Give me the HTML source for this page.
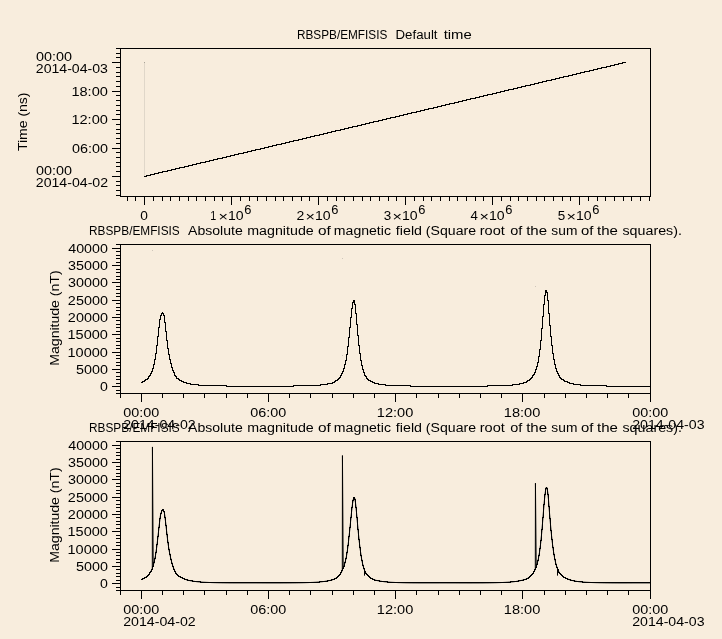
<!DOCTYPE html>
<html><head><meta charset="utf-8"><title>plot</title>
<style>
html,body{margin:0;padding:0;background:#f8eddd;}
body{width:722px;height:639px;overflow:hidden;}
svg{display:block;}
text{font-family:"Liberation Sans",sans-serif;fill:#000;}
svg{will-change:transform;}
</style></head><body>
<svg width="722" height="639" viewBox="0 0 722 639">
<rect x="0" y="0" width="722" height="639" fill="#f8eddd"/>
<rect x="120" y="48" width="531" height="1" fill="#000000"/>
<rect x="120" y="196" width="531" height="1" fill="#000000"/>
<rect x="120" y="48" width="1" height="149" fill="#000000"/>
<rect x="650" y="48" width="1" height="149" fill="#000000"/>
<rect x="116" y="195" width="5" height="1" fill="#000000"/>
<rect x="116" y="190" width="5" height="1" fill="#000000"/>
<rect x="116" y="185" width="5" height="1" fill="#000000"/>
<rect x="116" y="181" width="5" height="1" fill="#000000"/>
<rect x="112" y="176" width="9" height="1" fill="#000000"/>
<rect x="116" y="171" width="5" height="1" fill="#000000"/>
<rect x="116" y="166" width="5" height="1" fill="#000000"/>
<rect x="116" y="162" width="5" height="1" fill="#000000"/>
<rect x="116" y="157" width="5" height="1" fill="#000000"/>
<rect x="116" y="152" width="5" height="1" fill="#000000"/>
<rect x="112" y="148" width="9" height="1" fill="#000000"/>
<rect x="116" y="143" width="5" height="1" fill="#000000"/>
<rect x="116" y="138" width="5" height="1" fill="#000000"/>
<rect x="116" y="133" width="5" height="1" fill="#000000"/>
<rect x="116" y="129" width="5" height="1" fill="#000000"/>
<rect x="116" y="124" width="5" height="1" fill="#000000"/>
<rect x="112" y="119" width="9" height="1" fill="#000000"/>
<rect x="116" y="114" width="5" height="1" fill="#000000"/>
<rect x="116" y="110" width="5" height="1" fill="#000000"/>
<rect x="116" y="105" width="5" height="1" fill="#000000"/>
<rect x="116" y="100" width="5" height="1" fill="#000000"/>
<rect x="116" y="95" width="5" height="1" fill="#000000"/>
<rect x="112" y="91" width="9" height="1" fill="#000000"/>
<rect x="116" y="86" width="5" height="1" fill="#000000"/>
<rect x="116" y="81" width="5" height="1" fill="#000000"/>
<rect x="116" y="76" width="5" height="1" fill="#000000"/>
<rect x="116" y="72" width="5" height="1" fill="#000000"/>
<rect x="116" y="67" width="5" height="1" fill="#000000"/>
<rect x="112" y="62" width="9" height="1" fill="#000000"/>
<rect x="116" y="57" width="5" height="1" fill="#000000"/>
<rect x="116" y="53" width="5" height="1" fill="#000000"/>
<rect x="116" y="48" width="5" height="1" fill="#000000"/>
<text x="35.92" y="61" font-size="12.3" textLength="35.98" lengthAdjust="spacingAndGlyphs">00:00</text>
<text x="35.79" y="73" font-size="12.3" textLength="72.17" lengthAdjust="spacingAndGlyphs">2014-04-03</text>
<text x="71.4" y="96" font-size="12.3" textLength="36.51" lengthAdjust="spacingAndGlyphs">18:00</text>
<text x="71.4" y="124" font-size="12.3" textLength="36.51" lengthAdjust="spacingAndGlyphs">12:00</text>
<text x="71.92" y="153" font-size="12.3" textLength="35.98" lengthAdjust="spacingAndGlyphs">06:00</text>
<text x="35.92" y="175" font-size="12.3" textLength="35.98" lengthAdjust="spacingAndGlyphs">00:00</text>
<text x="35.79" y="187" font-size="12.3" textLength="72.32" lengthAdjust="spacingAndGlyphs">2014-04-02</text>
<rect x="127" y="196" width="1" height="5" fill="#000000"/>
<rect x="135" y="196" width="1" height="5" fill="#000000"/>
<rect x="144" y="196" width="1" height="9" fill="#000000"/>
<rect x="153" y="196" width="1" height="5" fill="#000000"/>
<rect x="162" y="196" width="1" height="5" fill="#000000"/>
<rect x="170" y="196" width="1" height="5" fill="#000000"/>
<rect x="179" y="196" width="1" height="5" fill="#000000"/>
<rect x="188" y="196" width="1" height="5" fill="#000000"/>
<rect x="196" y="196" width="1" height="5" fill="#000000"/>
<rect x="205" y="196" width="1" height="5" fill="#000000"/>
<rect x="214" y="196" width="1" height="5" fill="#000000"/>
<rect x="222" y="196" width="1" height="5" fill="#000000"/>
<rect x="231" y="196" width="1" height="9" fill="#000000"/>
<rect x="240" y="196" width="1" height="5" fill="#000000"/>
<rect x="249" y="196" width="1" height="5" fill="#000000"/>
<rect x="257" y="196" width="1" height="5" fill="#000000"/>
<rect x="266" y="196" width="1" height="5" fill="#000000"/>
<rect x="275" y="196" width="1" height="5" fill="#000000"/>
<rect x="283" y="196" width="1" height="5" fill="#000000"/>
<rect x="292" y="196" width="1" height="5" fill="#000000"/>
<rect x="301" y="196" width="1" height="5" fill="#000000"/>
<rect x="309" y="196" width="1" height="5" fill="#000000"/>
<rect x="318" y="196" width="1" height="9" fill="#000000"/>
<rect x="327" y="196" width="1" height="5" fill="#000000"/>
<rect x="336" y="196" width="1" height="5" fill="#000000"/>
<rect x="344" y="196" width="1" height="5" fill="#000000"/>
<rect x="353" y="196" width="1" height="5" fill="#000000"/>
<rect x="362" y="196" width="1" height="5" fill="#000000"/>
<rect x="370" y="196" width="1" height="5" fill="#000000"/>
<rect x="379" y="196" width="1" height="5" fill="#000000"/>
<rect x="388" y="196" width="1" height="5" fill="#000000"/>
<rect x="396" y="196" width="1" height="5" fill="#000000"/>
<rect x="405" y="196" width="1" height="9" fill="#000000"/>
<rect x="414" y="196" width="1" height="5" fill="#000000"/>
<rect x="423" y="196" width="1" height="5" fill="#000000"/>
<rect x="431" y="196" width="1" height="5" fill="#000000"/>
<rect x="440" y="196" width="1" height="5" fill="#000000"/>
<rect x="449" y="196" width="1" height="5" fill="#000000"/>
<rect x="457" y="196" width="1" height="5" fill="#000000"/>
<rect x="466" y="196" width="1" height="5" fill="#000000"/>
<rect x="475" y="196" width="1" height="5" fill="#000000"/>
<rect x="483" y="196" width="1" height="5" fill="#000000"/>
<rect x="492" y="196" width="1" height="9" fill="#000000"/>
<rect x="501" y="196" width="1" height="5" fill="#000000"/>
<rect x="510" y="196" width="1" height="5" fill="#000000"/>
<rect x="518" y="196" width="1" height="5" fill="#000000"/>
<rect x="527" y="196" width="1" height="5" fill="#000000"/>
<rect x="536" y="196" width="1" height="5" fill="#000000"/>
<rect x="544" y="196" width="1" height="5" fill="#000000"/>
<rect x="553" y="196" width="1" height="5" fill="#000000"/>
<rect x="562" y="196" width="1" height="5" fill="#000000"/>
<rect x="570" y="196" width="1" height="5" fill="#000000"/>
<rect x="579" y="196" width="1" height="9" fill="#000000"/>
<rect x="588" y="196" width="1" height="5" fill="#000000"/>
<rect x="597" y="196" width="1" height="5" fill="#000000"/>
<rect x="605" y="196" width="1" height="5" fill="#000000"/>
<rect x="614" y="196" width="1" height="5" fill="#000000"/>
<rect x="623" y="196" width="1" height="5" fill="#000000"/>
<rect x="631" y="196" width="1" height="5" fill="#000000"/>
<rect x="640" y="196" width="1" height="5" fill="#000000"/>
<rect x="649" y="196" width="1" height="5" fill="#000000"/>
<text x="140.15" y="220" font-size="12.3" textLength="7.63" lengthAdjust="spacingAndGlyphs">0</text>
<text x="210.29" y="220" font-size="12.3" textLength="6.0" lengthAdjust="spacingAndGlyphs">1</text>
<text x="218.57" y="221.3" font-size="12.3" textLength="9.47" lengthAdjust="spacingAndGlyphs">×</text>
<text x="228.04" y="220" font-size="12.3" textLength="15.65" lengthAdjust="spacingAndGlyphs">10</text>
<text x="244.25" y="214" font-size="12.3" textLength="7.16" lengthAdjust="spacingAndGlyphs">6</text>
<text x="296.6" y="220" font-size="12.3" textLength="7.81" lengthAdjust="spacingAndGlyphs">2</text>
<text x="305.57" y="221.3" font-size="12.3" textLength="9.47" lengthAdjust="spacingAndGlyphs">×</text>
<text x="315.04" y="220" font-size="12.3" textLength="15.65" lengthAdjust="spacingAndGlyphs">10</text>
<text x="331.25" y="214" font-size="12.3" textLength="7.16" lengthAdjust="spacingAndGlyphs">6</text>
<text x="383.76" y="220" font-size="12.3" textLength="7.48" lengthAdjust="spacingAndGlyphs">3</text>
<text x="392.57" y="221.3" font-size="12.3" textLength="9.47" lengthAdjust="spacingAndGlyphs">×</text>
<text x="402.04" y="220" font-size="12.3" textLength="15.65" lengthAdjust="spacingAndGlyphs">10</text>
<text x="418.25" y="214" font-size="12.3" textLength="7.16" lengthAdjust="spacingAndGlyphs">6</text>
<text x="470.63" y="220" font-size="12.3" textLength="7.36" lengthAdjust="spacingAndGlyphs">4</text>
<text x="479.57" y="221.3" font-size="12.3" textLength="9.47" lengthAdjust="spacingAndGlyphs">×</text>
<text x="489.04" y="220" font-size="12.3" textLength="15.65" lengthAdjust="spacingAndGlyphs">10</text>
<text x="505.25" y="214" font-size="12.3" textLength="7.16" lengthAdjust="spacingAndGlyphs">6</text>
<text x="557.76" y="220" font-size="12.3" textLength="7.48" lengthAdjust="spacingAndGlyphs">5</text>
<text x="566.57" y="221.3" font-size="12.3" textLength="9.47" lengthAdjust="spacingAndGlyphs">×</text>
<text x="576.04" y="220" font-size="12.3" textLength="15.65" lengthAdjust="spacingAndGlyphs">10</text>
<text x="592.25" y="214" font-size="12.3" textLength="7.16" lengthAdjust="spacingAndGlyphs">6</text>
<text x="296.96" y="39" font-size="12.3" textLength="90.37" lengthAdjust="spacingAndGlyphs">RBSPB/EMFISIS</text>
<text x="395.54" y="39" font-size="12.3" textLength="41.99" lengthAdjust="spacingAndGlyphs">Default</text>
<text x="443.68" y="39" font-size="12.3" textLength="28.09" lengthAdjust="spacingAndGlyphs">time</text>
<text transform="translate(27,151.08) rotate(-90)" font-size="12.3" textLength="58.57" lengthAdjust="spacingAndGlyphs">Time (ns)</text>
<rect x="144" y="62" width="1" height="115" fill="#e0d7c9"/>
<rect x="144" y="62" width="1" height="1" fill="#aaa498"/>
<rect x="144" y="176" width="2" height="1" fill="#000000"/>
<rect x="146" y="175" width="1" height="2" fill="#000000"/>
<rect x="147" y="175" width="3" height="1" fill="#000000"/>
<rect x="150" y="174" width="1" height="2" fill="#000000"/>
<rect x="151" y="174" width="3" height="1" fill="#000000"/>
<rect x="154" y="173" width="1" height="2" fill="#000000"/>
<rect x="155" y="173" width="3" height="1" fill="#000000"/>
<rect x="158" y="172" width="1" height="2" fill="#000000"/>
<rect x="159" y="172" width="3" height="1" fill="#000000"/>
<rect x="162" y="171" width="1" height="2" fill="#000000"/>
<rect x="163" y="171" width="4" height="1" fill="#000000"/>
<rect x="167" y="170" width="1" height="2" fill="#000000"/>
<rect x="168" y="170" width="3" height="1" fill="#000000"/>
<rect x="171" y="169" width="1" height="2" fill="#000000"/>
<rect x="172" y="169" width="3" height="1" fill="#000000"/>
<rect x="175" y="168" width="1" height="2" fill="#000000"/>
<rect x="176" y="168" width="3" height="1" fill="#000000"/>
<rect x="179" y="167" width="1" height="2" fill="#000000"/>
<rect x="180" y="167" width="4" height="1" fill="#000000"/>
<rect x="184" y="166" width="1" height="2" fill="#000000"/>
<rect x="185" y="166" width="3" height="1" fill="#000000"/>
<rect x="188" y="165" width="1" height="2" fill="#000000"/>
<rect x="189" y="165" width="3" height="1" fill="#000000"/>
<rect x="192" y="164" width="1" height="2" fill="#000000"/>
<rect x="193" y="164" width="3" height="1" fill="#000000"/>
<rect x="196" y="163" width="1" height="2" fill="#000000"/>
<rect x="197" y="163" width="3" height="1" fill="#000000"/>
<rect x="200" y="162" width="1" height="2" fill="#000000"/>
<rect x="201" y="162" width="4" height="1" fill="#000000"/>
<rect x="205" y="161" width="1" height="2" fill="#000000"/>
<rect x="206" y="161" width="3" height="1" fill="#000000"/>
<rect x="209" y="160" width="1" height="2" fill="#000000"/>
<rect x="210" y="160" width="3" height="1" fill="#000000"/>
<rect x="213" y="159" width="1" height="2" fill="#000000"/>
<rect x="214" y="159" width="3" height="1" fill="#000000"/>
<rect x="217" y="158" width="1" height="2" fill="#000000"/>
<rect x="218" y="158" width="4" height="1" fill="#000000"/>
<rect x="222" y="157" width="1" height="2" fill="#000000"/>
<rect x="223" y="157" width="3" height="1" fill="#000000"/>
<rect x="226" y="156" width="1" height="2" fill="#000000"/>
<rect x="227" y="156" width="3" height="1" fill="#000000"/>
<rect x="230" y="155" width="1" height="2" fill="#000000"/>
<rect x="231" y="155" width="3" height="1" fill="#000000"/>
<rect x="234" y="154" width="1" height="2" fill="#000000"/>
<rect x="235" y="154" width="3" height="1" fill="#000000"/>
<rect x="238" y="153" width="1" height="2" fill="#000000"/>
<rect x="239" y="153" width="4" height="1" fill="#000000"/>
<rect x="243" y="152" width="1" height="2" fill="#000000"/>
<rect x="244" y="152" width="3" height="1" fill="#000000"/>
<rect x="247" y="151" width="1" height="2" fill="#000000"/>
<rect x="248" y="151" width="3" height="1" fill="#000000"/>
<rect x="251" y="150" width="1" height="2" fill="#000000"/>
<rect x="252" y="150" width="3" height="1" fill="#000000"/>
<rect x="255" y="149" width="1" height="2" fill="#000000"/>
<rect x="256" y="149" width="4" height="1" fill="#000000"/>
<rect x="260" y="148" width="1" height="2" fill="#000000"/>
<rect x="261" y="148" width="3" height="1" fill="#000000"/>
<rect x="264" y="147" width="1" height="2" fill="#000000"/>
<rect x="265" y="147" width="3" height="1" fill="#000000"/>
<rect x="268" y="146" width="1" height="2" fill="#000000"/>
<rect x="269" y="146" width="3" height="1" fill="#000000"/>
<rect x="272" y="145" width="1" height="2" fill="#000000"/>
<rect x="273" y="145" width="3" height="1" fill="#000000"/>
<rect x="276" y="144" width="1" height="2" fill="#000000"/>
<rect x="277" y="144" width="4" height="1" fill="#000000"/>
<rect x="281" y="143" width="1" height="2" fill="#000000"/>
<rect x="282" y="143" width="3" height="1" fill="#000000"/>
<rect x="285" y="142" width="1" height="2" fill="#000000"/>
<rect x="286" y="142" width="3" height="1" fill="#000000"/>
<rect x="289" y="141" width="1" height="2" fill="#000000"/>
<rect x="290" y="141" width="3" height="1" fill="#000000"/>
<rect x="293" y="140" width="1" height="2" fill="#000000"/>
<rect x="294" y="140" width="4" height="1" fill="#000000"/>
<rect x="298" y="139" width="1" height="2" fill="#000000"/>
<rect x="299" y="139" width="3" height="1" fill="#000000"/>
<rect x="302" y="138" width="1" height="2" fill="#000000"/>
<rect x="303" y="138" width="3" height="1" fill="#000000"/>
<rect x="306" y="137" width="1" height="2" fill="#000000"/>
<rect x="307" y="137" width="3" height="1" fill="#000000"/>
<rect x="310" y="136" width="1" height="2" fill="#000000"/>
<rect x="311" y="136" width="3" height="1" fill="#000000"/>
<rect x="314" y="135" width="1" height="2" fill="#000000"/>
<rect x="315" y="135" width="4" height="1" fill="#000000"/>
<rect x="319" y="134" width="1" height="2" fill="#000000"/>
<rect x="320" y="134" width="3" height="1" fill="#000000"/>
<rect x="323" y="133" width="1" height="2" fill="#000000"/>
<rect x="324" y="133" width="3" height="1" fill="#000000"/>
<rect x="327" y="132" width="1" height="2" fill="#000000"/>
<rect x="328" y="132" width="3" height="1" fill="#000000"/>
<rect x="331" y="131" width="1" height="2" fill="#000000"/>
<rect x="332" y="131" width="3" height="1" fill="#000000"/>
<rect x="335" y="130" width="1" height="2" fill="#000000"/>
<rect x="336" y="130" width="4" height="1" fill="#000000"/>
<rect x="340" y="129" width="1" height="2" fill="#000000"/>
<rect x="341" y="129" width="3" height="1" fill="#000000"/>
<rect x="344" y="128" width="1" height="2" fill="#000000"/>
<rect x="345" y="128" width="3" height="1" fill="#000000"/>
<rect x="348" y="127" width="1" height="2" fill="#000000"/>
<rect x="349" y="127" width="3" height="1" fill="#000000"/>
<rect x="352" y="126" width="1" height="2" fill="#000000"/>
<rect x="353" y="126" width="4" height="1" fill="#000000"/>
<rect x="357" y="125" width="1" height="2" fill="#000000"/>
<rect x="358" y="125" width="3" height="1" fill="#000000"/>
<rect x="361" y="124" width="1" height="2" fill="#000000"/>
<rect x="362" y="124" width="3" height="1" fill="#000000"/>
<rect x="365" y="123" width="1" height="2" fill="#000000"/>
<rect x="366" y="123" width="3" height="1" fill="#000000"/>
<rect x="369" y="122" width="1" height="2" fill="#000000"/>
<rect x="370" y="122" width="3" height="1" fill="#000000"/>
<rect x="373" y="121" width="1" height="2" fill="#000000"/>
<rect x="374" y="121" width="4" height="1" fill="#000000"/>
<rect x="378" y="120" width="1" height="2" fill="#000000"/>
<rect x="379" y="120" width="3" height="1" fill="#000000"/>
<rect x="382" y="119" width="1" height="2" fill="#000000"/>
<rect x="383" y="119" width="3" height="1" fill="#000000"/>
<rect x="386" y="118" width="1" height="2" fill="#000000"/>
<rect x="387" y="118" width="3" height="1" fill="#000000"/>
<rect x="390" y="117" width="1" height="2" fill="#000000"/>
<rect x="391" y="117" width="4" height="1" fill="#000000"/>
<rect x="395" y="116" width="1" height="2" fill="#000000"/>
<rect x="396" y="116" width="3" height="1" fill="#000000"/>
<rect x="399" y="115" width="1" height="2" fill="#000000"/>
<rect x="400" y="115" width="3" height="1" fill="#000000"/>
<rect x="403" y="114" width="1" height="2" fill="#000000"/>
<rect x="404" y="114" width="3" height="1" fill="#000000"/>
<rect x="407" y="113" width="1" height="2" fill="#000000"/>
<rect x="408" y="113" width="3" height="1" fill="#000000"/>
<rect x="411" y="112" width="1" height="2" fill="#000000"/>
<rect x="412" y="112" width="4" height="1" fill="#000000"/>
<rect x="416" y="111" width="1" height="2" fill="#000000"/>
<rect x="417" y="111" width="3" height="1" fill="#000000"/>
<rect x="420" y="110" width="1" height="2" fill="#000000"/>
<rect x="421" y="110" width="3" height="1" fill="#000000"/>
<rect x="424" y="109" width="1" height="2" fill="#000000"/>
<rect x="425" y="109" width="3" height="1" fill="#000000"/>
<rect x="428" y="108" width="1" height="2" fill="#000000"/>
<rect x="429" y="108" width="4" height="1" fill="#000000"/>
<rect x="433" y="107" width="1" height="2" fill="#000000"/>
<rect x="434" y="107" width="3" height="1" fill="#000000"/>
<rect x="437" y="106" width="1" height="2" fill="#000000"/>
<rect x="438" y="106" width="3" height="1" fill="#000000"/>
<rect x="441" y="105" width="1" height="2" fill="#000000"/>
<rect x="442" y="105" width="3" height="1" fill="#000000"/>
<rect x="445" y="104" width="1" height="2" fill="#000000"/>
<rect x="446" y="104" width="3" height="1" fill="#000000"/>
<rect x="449" y="103" width="1" height="2" fill="#000000"/>
<rect x="450" y="103" width="4" height="1" fill="#000000"/>
<rect x="454" y="102" width="1" height="2" fill="#000000"/>
<rect x="455" y="102" width="3" height="1" fill="#000000"/>
<rect x="458" y="101" width="1" height="2" fill="#000000"/>
<rect x="459" y="101" width="3" height="1" fill="#000000"/>
<rect x="462" y="100" width="1" height="2" fill="#000000"/>
<rect x="463" y="100" width="3" height="1" fill="#000000"/>
<rect x="466" y="99" width="1" height="2" fill="#000000"/>
<rect x="467" y="99" width="3" height="1" fill="#000000"/>
<rect x="470" y="98" width="1" height="2" fill="#000000"/>
<rect x="471" y="98" width="4" height="1" fill="#000000"/>
<rect x="475" y="97" width="1" height="2" fill="#000000"/>
<rect x="476" y="97" width="3" height="1" fill="#000000"/>
<rect x="479" y="96" width="1" height="2" fill="#000000"/>
<rect x="480" y="96" width="3" height="1" fill="#000000"/>
<rect x="483" y="95" width="1" height="2" fill="#000000"/>
<rect x="484" y="95" width="3" height="1" fill="#000000"/>
<rect x="487" y="94" width="1" height="2" fill="#000000"/>
<rect x="488" y="94" width="4" height="1" fill="#000000"/>
<rect x="492" y="93" width="1" height="2" fill="#000000"/>
<rect x="493" y="93" width="3" height="1" fill="#000000"/>
<rect x="496" y="92" width="1" height="2" fill="#000000"/>
<rect x="497" y="92" width="3" height="1" fill="#000000"/>
<rect x="500" y="91" width="1" height="2" fill="#000000"/>
<rect x="501" y="91" width="3" height="1" fill="#000000"/>
<rect x="504" y="90" width="1" height="2" fill="#000000"/>
<rect x="505" y="90" width="3" height="1" fill="#000000"/>
<rect x="508" y="89" width="1" height="2" fill="#000000"/>
<rect x="509" y="89" width="4" height="1" fill="#000000"/>
<rect x="513" y="88" width="1" height="2" fill="#000000"/>
<rect x="514" y="88" width="3" height="1" fill="#000000"/>
<rect x="517" y="87" width="1" height="2" fill="#000000"/>
<rect x="518" y="87" width="3" height="1" fill="#000000"/>
<rect x="521" y="86" width="1" height="2" fill="#000000"/>
<rect x="522" y="86" width="3" height="1" fill="#000000"/>
<rect x="525" y="85" width="1" height="2" fill="#000000"/>
<rect x="526" y="85" width="4" height="1" fill="#000000"/>
<rect x="530" y="84" width="1" height="2" fill="#000000"/>
<rect x="531" y="84" width="3" height="1" fill="#000000"/>
<rect x="534" y="83" width="1" height="2" fill="#000000"/>
<rect x="535" y="83" width="3" height="1" fill="#000000"/>
<rect x="538" y="82" width="1" height="2" fill="#000000"/>
<rect x="539" y="82" width="3" height="1" fill="#000000"/>
<rect x="542" y="81" width="1" height="2" fill="#000000"/>
<rect x="543" y="81" width="3" height="1" fill="#000000"/>
<rect x="546" y="80" width="1" height="2" fill="#000000"/>
<rect x="547" y="80" width="4" height="1" fill="#000000"/>
<rect x="551" y="79" width="1" height="2" fill="#000000"/>
<rect x="552" y="79" width="3" height="1" fill="#000000"/>
<rect x="555" y="78" width="1" height="2" fill="#000000"/>
<rect x="556" y="78" width="3" height="1" fill="#000000"/>
<rect x="559" y="77" width="1" height="2" fill="#000000"/>
<rect x="560" y="77" width="3" height="1" fill="#000000"/>
<rect x="563" y="76" width="1" height="2" fill="#000000"/>
<rect x="564" y="76" width="4" height="1" fill="#000000"/>
<rect x="568" y="75" width="1" height="2" fill="#000000"/>
<rect x="569" y="75" width="3" height="1" fill="#000000"/>
<rect x="572" y="74" width="1" height="2" fill="#000000"/>
<rect x="573" y="74" width="3" height="1" fill="#000000"/>
<rect x="576" y="73" width="1" height="2" fill="#000000"/>
<rect x="577" y="73" width="3" height="1" fill="#000000"/>
<rect x="580" y="72" width="1" height="2" fill="#000000"/>
<rect x="581" y="72" width="3" height="1" fill="#000000"/>
<rect x="584" y="71" width="1" height="2" fill="#000000"/>
<rect x="585" y="71" width="4" height="1" fill="#000000"/>
<rect x="589" y="70" width="1" height="2" fill="#000000"/>
<rect x="590" y="70" width="3" height="1" fill="#000000"/>
<rect x="593" y="69" width="1" height="2" fill="#000000"/>
<rect x="594" y="69" width="3" height="1" fill="#000000"/>
<rect x="597" y="68" width="1" height="2" fill="#000000"/>
<rect x="598" y="68" width="3" height="1" fill="#000000"/>
<rect x="601" y="67" width="1" height="2" fill="#000000"/>
<rect x="602" y="67" width="4" height="1" fill="#000000"/>
<rect x="606" y="66" width="1" height="2" fill="#000000"/>
<rect x="607" y="66" width="3" height="1" fill="#000000"/>
<rect x="610" y="65" width="1" height="2" fill="#000000"/>
<rect x="611" y="65" width="3" height="1" fill="#000000"/>
<rect x="614" y="64" width="1" height="2" fill="#000000"/>
<rect x="615" y="64" width="3" height="1" fill="#000000"/>
<rect x="618" y="63" width="1" height="2" fill="#000000"/>
<rect x="619" y="63" width="3" height="1" fill="#000000"/>
<rect x="622" y="62" width="1" height="2" fill="#000000"/>
<rect x="623" y="62" width="3" height="1" fill="#000000"/>
<rect x="120" y="244" width="531" height="1" fill="#000000"/>
<rect x="120" y="393" width="531" height="1" fill="#000000"/>
<rect x="120" y="244" width="1" height="150" fill="#000000"/>
<rect x="650" y="244" width="1" height="150" fill="#000000"/>
<rect x="116" y="393" width="5" height="1" fill="#000000"/>
<rect x="116" y="390" width="5" height="1" fill="#000000"/>
<rect x="112" y="386" width="9" height="1" fill="#000000"/>
<rect x="116" y="383" width="5" height="1" fill="#000000"/>
<rect x="116" y="379" width="5" height="1" fill="#000000"/>
<rect x="116" y="376" width="5" height="1" fill="#000000"/>
<rect x="116" y="372" width="5" height="1" fill="#000000"/>
<rect x="112" y="369" width="9" height="1" fill="#000000"/>
<rect x="116" y="365" width="5" height="1" fill="#000000"/>
<rect x="116" y="362" width="5" height="1" fill="#000000"/>
<rect x="116" y="358" width="5" height="1" fill="#000000"/>
<rect x="116" y="355" width="5" height="1" fill="#000000"/>
<rect x="112" y="352" width="9" height="1" fill="#000000"/>
<rect x="116" y="348" width="5" height="1" fill="#000000"/>
<rect x="116" y="345" width="5" height="1" fill="#000000"/>
<rect x="116" y="341" width="5" height="1" fill="#000000"/>
<rect x="116" y="338" width="5" height="1" fill="#000000"/>
<rect x="112" y="334" width="9" height="1" fill="#000000"/>
<rect x="116" y="331" width="5" height="1" fill="#000000"/>
<rect x="116" y="327" width="5" height="1" fill="#000000"/>
<rect x="116" y="324" width="5" height="1" fill="#000000"/>
<rect x="116" y="320" width="5" height="1" fill="#000000"/>
<rect x="112" y="317" width="9" height="1" fill="#000000"/>
<rect x="116" y="314" width="5" height="1" fill="#000000"/>
<rect x="116" y="310" width="5" height="1" fill="#000000"/>
<rect x="116" y="307" width="5" height="1" fill="#000000"/>
<rect x="116" y="303" width="5" height="1" fill="#000000"/>
<rect x="112" y="300" width="9" height="1" fill="#000000"/>
<rect x="116" y="296" width="5" height="1" fill="#000000"/>
<rect x="116" y="293" width="5" height="1" fill="#000000"/>
<rect x="116" y="289" width="5" height="1" fill="#000000"/>
<rect x="116" y="286" width="5" height="1" fill="#000000"/>
<rect x="112" y="282" width="9" height="1" fill="#000000"/>
<rect x="116" y="279" width="5" height="1" fill="#000000"/>
<rect x="116" y="276" width="5" height="1" fill="#000000"/>
<rect x="116" y="272" width="5" height="1" fill="#000000"/>
<rect x="116" y="269" width="5" height="1" fill="#000000"/>
<rect x="112" y="265" width="9" height="1" fill="#000000"/>
<rect x="116" y="262" width="5" height="1" fill="#000000"/>
<rect x="116" y="258" width="5" height="1" fill="#000000"/>
<rect x="116" y="255" width="5" height="1" fill="#000000"/>
<rect x="116" y="251" width="5" height="1" fill="#000000"/>
<rect x="112" y="248" width="9" height="1" fill="#000000"/>
<rect x="116" y="244" width="5" height="1" fill="#000000"/>
<text x="100.03" y="391" font-size="12.3" textLength="7.86" lengthAdjust="spacingAndGlyphs">0</text>
<text x="76.03" y="374" font-size="12.3" textLength="31.88" lengthAdjust="spacingAndGlyphs">5000</text>
<text x="67.51" y="357" font-size="12.3" textLength="40.4" lengthAdjust="spacingAndGlyphs">10000</text>
<text x="67.51" y="339" font-size="12.3" textLength="40.4" lengthAdjust="spacingAndGlyphs">15000</text>
<text x="67.88" y="322" font-size="12.3" textLength="40.03" lengthAdjust="spacingAndGlyphs">20000</text>
<text x="67.88" y="305" font-size="12.3" textLength="40.03" lengthAdjust="spacingAndGlyphs">25000</text>
<text x="68.03" y="287" font-size="12.3" textLength="39.88" lengthAdjust="spacingAndGlyphs">30000</text>
<text x="68.03" y="270" font-size="12.3" textLength="39.88" lengthAdjust="spacingAndGlyphs">35000</text>
<text x="68.31" y="253" font-size="12.3" textLength="39.58" lengthAdjust="spacingAndGlyphs">40000</text>
<rect x="120" y="393" width="1" height="5" fill="#000000"/>
<rect x="141" y="393" width="1" height="9" fill="#000000"/>
<rect x="162" y="393" width="1" height="5" fill="#000000"/>
<rect x="183" y="393" width="1" height="5" fill="#000000"/>
<rect x="204" y="393" width="1" height="5" fill="#000000"/>
<rect x="226" y="393" width="1" height="5" fill="#000000"/>
<rect x="247" y="393" width="1" height="5" fill="#000000"/>
<rect x="268" y="393" width="1" height="9" fill="#000000"/>
<rect x="289" y="393" width="1" height="5" fill="#000000"/>
<rect x="310" y="393" width="1" height="5" fill="#000000"/>
<rect x="332" y="393" width="1" height="5" fill="#000000"/>
<rect x="353" y="393" width="1" height="5" fill="#000000"/>
<rect x="374" y="393" width="1" height="5" fill="#000000"/>
<rect x="395" y="393" width="1" height="9" fill="#000000"/>
<rect x="416" y="393" width="1" height="5" fill="#000000"/>
<rect x="438" y="393" width="1" height="5" fill="#000000"/>
<rect x="459" y="393" width="1" height="5" fill="#000000"/>
<rect x="480" y="393" width="1" height="5" fill="#000000"/>
<rect x="501" y="393" width="1" height="5" fill="#000000"/>
<rect x="522" y="393" width="1" height="9" fill="#000000"/>
<rect x="544" y="393" width="1" height="5" fill="#000000"/>
<rect x="565" y="393" width="1" height="5" fill="#000000"/>
<rect x="586" y="393" width="1" height="5" fill="#000000"/>
<rect x="607" y="393" width="1" height="5" fill="#000000"/>
<rect x="628" y="393" width="1" height="5" fill="#000000"/>
<rect x="650" y="393" width="1" height="9" fill="#000000"/>
<text x="123.32" y="417" font-size="12.3" textLength="35.98" lengthAdjust="spacingAndGlyphs">00:00</text>
<text x="123.19" y="429" font-size="12.3" textLength="72.52" lengthAdjust="spacingAndGlyphs">2014-04-02</text>
<text x="250.32" y="417" font-size="12.3" textLength="35.98" lengthAdjust="spacingAndGlyphs">06:00</text>
<text x="376.8" y="417" font-size="12.3" textLength="36.51" lengthAdjust="spacingAndGlyphs">12:00</text>
<text x="503.8" y="417" font-size="12.3" textLength="36.51" lengthAdjust="spacingAndGlyphs">18:00</text>
<text x="632.32" y="417" font-size="12.3" textLength="35.98" lengthAdjust="spacingAndGlyphs">00:00</text>
<text x="632.19" y="429" font-size="12.3" textLength="72.37" lengthAdjust="spacingAndGlyphs">2014-04-03</text>
<text x="89.05" y="235" font-size="12.3" textLength="90.68" lengthAdjust="spacingAndGlyphs">RBSPB/EMFISIS</text>
<text x="188.0" y="235" font-size="12.3" textLength="54.73" lengthAdjust="spacingAndGlyphs">Absolute</text>
<text x="247.27" y="235" font-size="12.3" textLength="66.47" lengthAdjust="spacingAndGlyphs">magnitude</text>
<text x="318.09" y="235" font-size="12.3" textLength="12.81" lengthAdjust="spacingAndGlyphs">of</text>
<text x="333.89" y="235" font-size="12.3" textLength="57.07" lengthAdjust="spacingAndGlyphs">magnetic</text>
<text x="395.89" y="235" font-size="12.3" textLength="26.14" lengthAdjust="spacingAndGlyphs">field</text>
<text x="425.85" y="235" font-size="12.3" textLength="50.18" lengthAdjust="spacingAndGlyphs">(Square</text>
<text x="479.75" y="235" font-size="12.3" textLength="25.09" lengthAdjust="spacingAndGlyphs">root</text>
<text x="510.32" y="235" font-size="12.3" textLength="12.08" lengthAdjust="spacingAndGlyphs">of</text>
<text x="526.17" y="235" font-size="12.3" textLength="20.9" lengthAdjust="spacingAndGlyphs">the</text>
<text x="551.39" y="235" font-size="12.3" textLength="26.01" lengthAdjust="spacingAndGlyphs">sum</text>
<text x="581.11" y="235" font-size="12.3" textLength="12.39" lengthAdjust="spacingAndGlyphs">of</text>
<text x="596.97" y="235" font-size="12.3" textLength="20.9" lengthAdjust="spacingAndGlyphs">the</text>
<text x="622.47" y="235" font-size="12.3" textLength="59.48" lengthAdjust="spacingAndGlyphs">squares).</text>
<text transform="translate(59,365.72) rotate(-90)" font-size="12.3" textLength="95.34" lengthAdjust="spacingAndGlyphs">Magnitude (nT)</text>
<rect x="141" y="382" width="1" height="1" fill="#000000"/>
<rect x="142" y="381" width="1" height="2" fill="#000000"/>
<rect x="143" y="381" width="1" height="1" fill="#000000"/>
<rect x="144" y="380" width="1" height="2" fill="#000000"/>
<rect x="145" y="379" width="1" height="2" fill="#000000"/>
<rect x="146" y="379" width="1" height="1" fill="#000000"/>
<rect x="147" y="378" width="1" height="2" fill="#000000"/>
<rect x="148" y="376" width="1" height="3" fill="#000000"/>
<rect x="149" y="375" width="1" height="2" fill="#000000"/>
<rect x="150" y="373" width="1" height="3" fill="#000000"/>
<rect x="151" y="371" width="1" height="3" fill="#000000"/>
<rect x="152" y="368" width="1" height="4" fill="#000000"/>
<rect x="153" y="364" width="1" height="5" fill="#000000"/>
<rect x="154" y="359" width="1" height="6" fill="#000000"/>
<rect x="155" y="353" width="1" height="7" fill="#000000"/>
<rect x="156" y="345" width="1" height="9" fill="#000000"/>
<rect x="157" y="336" width="1" height="10" fill="#000000"/>
<rect x="158" y="327" width="1" height="10" fill="#000000"/>
<rect x="159" y="319" width="1" height="9" fill="#000000"/>
<rect x="160" y="315" width="1" height="5" fill="#000000"/>
<rect x="161" y="313" width="1" height="3" fill="#000000"/>
<rect x="162" y="312" width="1" height="2" fill="#000000"/>
<rect x="163" y="313" width="1" height="3" fill="#000000"/>
<rect x="164" y="315" width="1" height="8" fill="#000000"/>
<rect x="165" y="322" width="1" height="10" fill="#000000"/>
<rect x="166" y="331" width="1" height="10" fill="#000000"/>
<rect x="167" y="340" width="1" height="9" fill="#000000"/>
<rect x="168" y="348" width="1" height="7" fill="#000000"/>
<rect x="169" y="354" width="1" height="6" fill="#000000"/>
<rect x="170" y="359" width="1" height="5" fill="#000000"/>
<rect x="171" y="363" width="1" height="5" fill="#000000"/>
<rect x="172" y="367" width="1" height="4" fill="#000000"/>
<rect x="173" y="370" width="1" height="3" fill="#000000"/>
<rect x="174" y="372" width="1" height="4" fill="#000000"/>
<rect x="175" y="375" width="1" height="2" fill="#000000"/>
<rect x="176" y="376" width="1" height="3" fill="#000000"/>
<rect x="177" y="378" width="1" height="1" fill="#000000"/>
<rect x="178" y="378" width="1" height="2" fill="#000000"/>
<rect x="179" y="379" width="1" height="2" fill="#000000"/>
<rect x="180" y="380" width="1" height="1" fill="#000000"/>
<rect x="181" y="380" width="1" height="2" fill="#000000"/>
<rect x="182" y="381" width="1" height="1" fill="#000000"/>
<rect x="183" y="381" width="1" height="2" fill="#000000"/>
<rect x="184" y="382" width="2" height="1" fill="#000000"/>
<rect x="186" y="382" width="1" height="2" fill="#000000"/>
<rect x="187" y="383" width="3" height="1" fill="#000000"/>
<rect x="190" y="383" width="1" height="2" fill="#000000"/>
<rect x="191" y="384" width="7" height="1" fill="#000000"/>
<rect x="198" y="384" width="1" height="2" fill="#000000"/>
<rect x="199" y="385" width="27" height="1" fill="#000000"/>
<rect x="226" y="385" width="1" height="2" fill="#000000"/>
<rect x="227" y="386" width="66" height="1" fill="#000000"/>
<rect x="293" y="385" width="1" height="2" fill="#000000"/>
<rect x="294" y="385" width="26" height="1" fill="#000000"/>
<rect x="320" y="384" width="1" height="2" fill="#000000"/>
<rect x="321" y="384" width="6" height="1" fill="#000000"/>
<rect x="327" y="383" width="1" height="2" fill="#000000"/>
<rect x="328" y="383" width="4" height="1" fill="#000000"/>
<rect x="332" y="382" width="1" height="2" fill="#000000"/>
<rect x="333" y="382" width="1" height="1" fill="#000000"/>
<rect x="334" y="381" width="1" height="2" fill="#000000"/>
<rect x="335" y="380" width="1" height="2" fill="#000000"/>
<rect x="336" y="380" width="1" height="1" fill="#000000"/>
<rect x="337" y="379" width="1" height="2" fill="#000000"/>
<rect x="338" y="378" width="1" height="2" fill="#000000"/>
<rect x="339" y="377" width="1" height="2" fill="#000000"/>
<rect x="340" y="375" width="1" height="3" fill="#000000"/>
<rect x="341" y="373" width="1" height="3" fill="#000000"/>
<rect x="342" y="371" width="1" height="3" fill="#000000"/>
<rect x="343" y="368" width="1" height="4" fill="#000000"/>
<rect x="344" y="364" width="1" height="5" fill="#000000"/>
<rect x="345" y="360" width="1" height="5" fill="#000000"/>
<rect x="346" y="354" width="1" height="7" fill="#000000"/>
<rect x="347" y="346" width="1" height="9" fill="#000000"/>
<rect x="348" y="337" width="1" height="10" fill="#000000"/>
<rect x="349" y="327" width="1" height="11" fill="#000000"/>
<rect x="350" y="317" width="1" height="11" fill="#000000"/>
<rect x="351" y="308" width="1" height="10" fill="#000000"/>
<rect x="352" y="302" width="1" height="7" fill="#000000"/>
<rect x="353" y="300" width="1" height="3" fill="#000000"/>
<rect x="354" y="300" width="1" height="5" fill="#000000"/>
<rect x="355" y="304" width="1" height="10" fill="#000000"/>
<rect x="356" y="313" width="1" height="12" fill="#000000"/>
<rect x="357" y="324" width="1" height="12" fill="#000000"/>
<rect x="358" y="335" width="1" height="11" fill="#000000"/>
<rect x="359" y="345" width="1" height="9" fill="#000000"/>
<rect x="360" y="353" width="1" height="8" fill="#000000"/>
<rect x="361" y="360" width="1" height="6" fill="#000000"/>
<rect x="362" y="365" width="1" height="5" fill="#000000"/>
<rect x="363" y="369" width="1" height="4" fill="#000000"/>
<rect x="364" y="372" width="1" height="4" fill="#000000"/>
<rect x="365" y="375" width="1" height="2" fill="#000000"/>
<rect x="366" y="376" width="1" height="3" fill="#000000"/>
<rect x="367" y="378" width="1" height="2" fill="#000000"/>
<rect x="368" y="379" width="1" height="2" fill="#000000"/>
<rect x="369" y="380" width="1" height="1" fill="#000000"/>
<rect x="370" y="380" width="1" height="2" fill="#000000"/>
<rect x="371" y="381" width="1" height="1" fill="#000000"/>
<rect x="372" y="381" width="1" height="2" fill="#000000"/>
<rect x="373" y="382" width="1" height="1" fill="#000000"/>
<rect x="374" y="382" width="1" height="2" fill="#000000"/>
<rect x="375" y="383" width="3" height="1" fill="#000000"/>
<rect x="378" y="383" width="1" height="2" fill="#000000"/>
<rect x="379" y="384" width="6" height="1" fill="#000000"/>
<rect x="385" y="384" width="1" height="2" fill="#000000"/>
<rect x="386" y="385" width="24" height="1" fill="#000000"/>
<rect x="410" y="385" width="1" height="2" fill="#000000"/>
<rect x="411" y="386" width="76" height="1" fill="#000000"/>
<rect x="487" y="385" width="1" height="2" fill="#000000"/>
<rect x="488" y="385" width="24" height="1" fill="#000000"/>
<rect x="512" y="384" width="1" height="2" fill="#000000"/>
<rect x="513" y="384" width="6" height="1" fill="#000000"/>
<rect x="519" y="383" width="1" height="2" fill="#000000"/>
<rect x="520" y="383" width="3" height="1" fill="#000000"/>
<rect x="523" y="382" width="1" height="2" fill="#000000"/>
<rect x="524" y="382" width="2" height="1" fill="#000000"/>
<rect x="526" y="381" width="1" height="2" fill="#000000"/>
<rect x="527" y="380" width="1" height="2" fill="#000000"/>
<rect x="528" y="380" width="1" height="1" fill="#000000"/>
<rect x="529" y="379" width="1" height="2" fill="#000000"/>
<rect x="530" y="378" width="1" height="2" fill="#000000"/>
<rect x="531" y="377" width="1" height="2" fill="#000000"/>
<rect x="532" y="375" width="1" height="3" fill="#000000"/>
<rect x="533" y="374" width="1" height="2" fill="#000000"/>
<rect x="534" y="372" width="1" height="3" fill="#000000"/>
<rect x="535" y="369" width="1" height="4" fill="#000000"/>
<rect x="536" y="366" width="1" height="4" fill="#000000"/>
<rect x="537" y="362" width="1" height="5" fill="#000000"/>
<rect x="538" y="356" width="1" height="7" fill="#000000"/>
<rect x="539" y="349" width="1" height="8" fill="#000000"/>
<rect x="540" y="340" width="1" height="10" fill="#000000"/>
<rect x="541" y="328" width="1" height="13" fill="#000000"/>
<rect x="542" y="316" width="1" height="13" fill="#000000"/>
<rect x="543" y="304" width="1" height="13" fill="#000000"/>
<rect x="544" y="295" width="1" height="10" fill="#000000"/>
<rect x="545" y="290" width="1" height="6" fill="#000000"/>
<rect x="546" y="290" width="1" height="3" fill="#000000"/>
<rect x="547" y="292" width="1" height="9" fill="#000000"/>
<rect x="548" y="300" width="1" height="14" fill="#000000"/>
<rect x="549" y="313" width="1" height="13" fill="#000000"/>
<rect x="550" y="325" width="1" height="12" fill="#000000"/>
<rect x="551" y="336" width="1" height="10" fill="#000000"/>
<rect x="552" y="345" width="1" height="9" fill="#000000"/>
<rect x="553" y="353" width="1" height="7" fill="#000000"/>
<rect x="554" y="359" width="1" height="6" fill="#000000"/>
<rect x="555" y="364" width="1" height="5" fill="#000000"/>
<rect x="556" y="368" width="1" height="4" fill="#000000"/>
<rect x="557" y="371" width="1" height="3" fill="#000000"/>
<rect x="558" y="373" width="1" height="3" fill="#000000"/>
<rect x="559" y="375" width="1" height="3" fill="#000000"/>
<rect x="560" y="377" width="1" height="2" fill="#000000"/>
<rect x="561" y="378" width="1" height="2" fill="#000000"/>
<rect x="562" y="379" width="1" height="1" fill="#000000"/>
<rect x="563" y="379" width="1" height="2" fill="#000000"/>
<rect x="564" y="380" width="1" height="2" fill="#000000"/>
<rect x="565" y="381" width="2" height="1" fill="#000000"/>
<rect x="567" y="381" width="1" height="2" fill="#000000"/>
<rect x="568" y="382" width="1" height="1" fill="#000000"/>
<rect x="569" y="382" width="1" height="2" fill="#000000"/>
<rect x="570" y="383" width="3" height="1" fill="#000000"/>
<rect x="573" y="383" width="1" height="2" fill="#000000"/>
<rect x="574" y="384" width="6" height="1" fill="#000000"/>
<rect x="580" y="384" width="1" height="2" fill="#000000"/>
<rect x="581" y="385" width="25" height="1" fill="#000000"/>
<rect x="606" y="385" width="1" height="2" fill="#000000"/>
<rect x="607" y="386" width="44" height="1" fill="#000000"/>
<rect x="152" y="250" width="1" height="1" fill="#cfc6ba"/>
<rect x="342" y="258" width="1" height="1" fill="#cfc6ba"/>
<rect x="535" y="286" width="1" height="1" fill="#cfc6ba"/>
<rect x="152" y="355" width="1" height="1" fill="#cfc6ba"/>
<rect x="342" y="355" width="1" height="1" fill="#cfc6ba"/>
<rect x="364" y="379" width="1" height="1" fill="#cfc6ba"/>
<rect x="535" y="360" width="1" height="1" fill="#cfc6ba"/>
<rect x="120" y="441" width="531" height="1" fill="#000000"/>
<rect x="120" y="590" width="531" height="1" fill="#000000"/>
<rect x="120" y="441" width="1" height="150" fill="#000000"/>
<rect x="650" y="441" width="1" height="150" fill="#000000"/>
<rect x="116" y="590" width="5" height="1" fill="#000000"/>
<rect x="116" y="587" width="5" height="1" fill="#000000"/>
<rect x="112" y="583" width="9" height="1" fill="#000000"/>
<rect x="116" y="580" width="5" height="1" fill="#000000"/>
<rect x="116" y="576" width="5" height="1" fill="#000000"/>
<rect x="116" y="573" width="5" height="1" fill="#000000"/>
<rect x="116" y="569" width="5" height="1" fill="#000000"/>
<rect x="112" y="566" width="9" height="1" fill="#000000"/>
<rect x="116" y="562" width="5" height="1" fill="#000000"/>
<rect x="116" y="559" width="5" height="1" fill="#000000"/>
<rect x="116" y="555" width="5" height="1" fill="#000000"/>
<rect x="116" y="552" width="5" height="1" fill="#000000"/>
<rect x="112" y="549" width="9" height="1" fill="#000000"/>
<rect x="116" y="545" width="5" height="1" fill="#000000"/>
<rect x="116" y="542" width="5" height="1" fill="#000000"/>
<rect x="116" y="538" width="5" height="1" fill="#000000"/>
<rect x="116" y="535" width="5" height="1" fill="#000000"/>
<rect x="112" y="531" width="9" height="1" fill="#000000"/>
<rect x="116" y="528" width="5" height="1" fill="#000000"/>
<rect x="116" y="524" width="5" height="1" fill="#000000"/>
<rect x="116" y="521" width="5" height="1" fill="#000000"/>
<rect x="116" y="517" width="5" height="1" fill="#000000"/>
<rect x="112" y="514" width="9" height="1" fill="#000000"/>
<rect x="116" y="511" width="5" height="1" fill="#000000"/>
<rect x="116" y="507" width="5" height="1" fill="#000000"/>
<rect x="116" y="504" width="5" height="1" fill="#000000"/>
<rect x="116" y="500" width="5" height="1" fill="#000000"/>
<rect x="112" y="497" width="9" height="1" fill="#000000"/>
<rect x="116" y="493" width="5" height="1" fill="#000000"/>
<rect x="116" y="490" width="5" height="1" fill="#000000"/>
<rect x="116" y="486" width="5" height="1" fill="#000000"/>
<rect x="116" y="483" width="5" height="1" fill="#000000"/>
<rect x="112" y="479" width="9" height="1" fill="#000000"/>
<rect x="116" y="476" width="5" height="1" fill="#000000"/>
<rect x="116" y="473" width="5" height="1" fill="#000000"/>
<rect x="116" y="469" width="5" height="1" fill="#000000"/>
<rect x="116" y="466" width="5" height="1" fill="#000000"/>
<rect x="112" y="462" width="9" height="1" fill="#000000"/>
<rect x="116" y="459" width="5" height="1" fill="#000000"/>
<rect x="116" y="455" width="5" height="1" fill="#000000"/>
<rect x="116" y="452" width="5" height="1" fill="#000000"/>
<rect x="116" y="448" width="5" height="1" fill="#000000"/>
<rect x="112" y="445" width="9" height="1" fill="#000000"/>
<rect x="116" y="441" width="5" height="1" fill="#000000"/>
<text x="100.03" y="588" font-size="12.3" textLength="7.86" lengthAdjust="spacingAndGlyphs">0</text>
<text x="76.03" y="571" font-size="12.3" textLength="31.88" lengthAdjust="spacingAndGlyphs">5000</text>
<text x="67.51" y="554" font-size="12.3" textLength="40.4" lengthAdjust="spacingAndGlyphs">10000</text>
<text x="67.51" y="536" font-size="12.3" textLength="40.4" lengthAdjust="spacingAndGlyphs">15000</text>
<text x="67.88" y="519" font-size="12.3" textLength="40.03" lengthAdjust="spacingAndGlyphs">20000</text>
<text x="67.88" y="502" font-size="12.3" textLength="40.03" lengthAdjust="spacingAndGlyphs">25000</text>
<text x="68.03" y="484" font-size="12.3" textLength="39.88" lengthAdjust="spacingAndGlyphs">30000</text>
<text x="68.03" y="467" font-size="12.3" textLength="39.88" lengthAdjust="spacingAndGlyphs">35000</text>
<text x="68.31" y="450" font-size="12.3" textLength="39.58" lengthAdjust="spacingAndGlyphs">40000</text>
<rect x="120" y="590" width="1" height="5" fill="#000000"/>
<rect x="141" y="590" width="1" height="9" fill="#000000"/>
<rect x="162" y="590" width="1" height="5" fill="#000000"/>
<rect x="183" y="590" width="1" height="5" fill="#000000"/>
<rect x="204" y="590" width="1" height="5" fill="#000000"/>
<rect x="226" y="590" width="1" height="5" fill="#000000"/>
<rect x="247" y="590" width="1" height="5" fill="#000000"/>
<rect x="268" y="590" width="1" height="9" fill="#000000"/>
<rect x="289" y="590" width="1" height="5" fill="#000000"/>
<rect x="310" y="590" width="1" height="5" fill="#000000"/>
<rect x="332" y="590" width="1" height="5" fill="#000000"/>
<rect x="353" y="590" width="1" height="5" fill="#000000"/>
<rect x="374" y="590" width="1" height="5" fill="#000000"/>
<rect x="395" y="590" width="1" height="9" fill="#000000"/>
<rect x="416" y="590" width="1" height="5" fill="#000000"/>
<rect x="438" y="590" width="1" height="5" fill="#000000"/>
<rect x="459" y="590" width="1" height="5" fill="#000000"/>
<rect x="480" y="590" width="1" height="5" fill="#000000"/>
<rect x="501" y="590" width="1" height="5" fill="#000000"/>
<rect x="522" y="590" width="1" height="9" fill="#000000"/>
<rect x="544" y="590" width="1" height="5" fill="#000000"/>
<rect x="565" y="590" width="1" height="5" fill="#000000"/>
<rect x="586" y="590" width="1" height="5" fill="#000000"/>
<rect x="607" y="590" width="1" height="5" fill="#000000"/>
<rect x="628" y="590" width="1" height="5" fill="#000000"/>
<rect x="650" y="590" width="1" height="9" fill="#000000"/>
<text x="123.32" y="614" font-size="12.3" textLength="35.98" lengthAdjust="spacingAndGlyphs">00:00</text>
<text x="123.19" y="626" font-size="12.3" textLength="72.52" lengthAdjust="spacingAndGlyphs">2014-04-02</text>
<text x="250.32" y="614" font-size="12.3" textLength="35.98" lengthAdjust="spacingAndGlyphs">06:00</text>
<text x="376.8" y="614" font-size="12.3" textLength="36.51" lengthAdjust="spacingAndGlyphs">12:00</text>
<text x="503.8" y="614" font-size="12.3" textLength="36.51" lengthAdjust="spacingAndGlyphs">18:00</text>
<text x="632.32" y="614" font-size="12.3" textLength="35.98" lengthAdjust="spacingAndGlyphs">00:00</text>
<text x="632.19" y="626" font-size="12.3" textLength="72.37" lengthAdjust="spacingAndGlyphs">2014-04-03</text>
<text x="89.05" y="432" font-size="12.3" textLength="90.68" lengthAdjust="spacingAndGlyphs">RBSPB/EMFISIS</text>
<text x="188.0" y="432" font-size="12.3" textLength="54.73" lengthAdjust="spacingAndGlyphs">Absolute</text>
<text x="247.27" y="432" font-size="12.3" textLength="66.47" lengthAdjust="spacingAndGlyphs">magnitude</text>
<text x="318.09" y="432" font-size="12.3" textLength="12.81" lengthAdjust="spacingAndGlyphs">of</text>
<text x="333.89" y="432" font-size="12.3" textLength="57.07" lengthAdjust="spacingAndGlyphs">magnetic</text>
<text x="395.89" y="432" font-size="12.3" textLength="26.14" lengthAdjust="spacingAndGlyphs">field</text>
<text x="425.85" y="432" font-size="12.3" textLength="50.18" lengthAdjust="spacingAndGlyphs">(Square</text>
<text x="479.75" y="432" font-size="12.3" textLength="25.09" lengthAdjust="spacingAndGlyphs">root</text>
<text x="510.32" y="432" font-size="12.3" textLength="12.08" lengthAdjust="spacingAndGlyphs">of</text>
<text x="526.17" y="432" font-size="12.3" textLength="20.9" lengthAdjust="spacingAndGlyphs">the</text>
<text x="551.39" y="432" font-size="12.3" textLength="26.01" lengthAdjust="spacingAndGlyphs">sum</text>
<text x="581.11" y="432" font-size="12.3" textLength="12.39" lengthAdjust="spacingAndGlyphs">of</text>
<text x="596.97" y="432" font-size="12.3" textLength="20.9" lengthAdjust="spacingAndGlyphs">the</text>
<text x="622.47" y="432" font-size="12.3" textLength="59.48" lengthAdjust="spacingAndGlyphs">squares).</text>
<text transform="translate(59,562.72) rotate(-90)" font-size="12.3" textLength="95.34" lengthAdjust="spacingAndGlyphs">Magnitude (nT)</text>
<rect x="141" y="579" width="1" height="1" fill="#000000"/>
<rect x="142" y="578" width="1" height="2" fill="#000000"/>
<rect x="143" y="578" width="1" height="1" fill="#000000"/>
<rect x="144" y="577" width="1" height="2" fill="#000000"/>
<rect x="145" y="577" width="1" height="1" fill="#000000"/>
<rect x="146" y="576" width="1" height="2" fill="#000000"/>
<rect x="147" y="575" width="1" height="2" fill="#000000"/>
<rect x="148" y="574" width="1" height="2" fill="#000000"/>
<rect x="149" y="572" width="1" height="3" fill="#000000"/>
<rect x="150" y="571" width="1" height="2" fill="#000000"/>
<rect x="151" y="569" width="1" height="3" fill="#000000"/>
<rect x="152" y="566" width="1" height="4" fill="#000000"/>
<rect x="153" y="562" width="1" height="5" fill="#000000"/>
<rect x="154" y="558" width="1" height="5" fill="#000000"/>
<rect x="155" y="552" width="1" height="7" fill="#000000"/>
<rect x="156" y="544" width="1" height="9" fill="#000000"/>
<rect x="157" y="536" width="1" height="9" fill="#000000"/>
<rect x="158" y="527" width="1" height="10" fill="#000000"/>
<rect x="159" y="518" width="1" height="10" fill="#000000"/>
<rect x="160" y="513" width="1" height="6" fill="#000000"/>
<rect x="161" y="510" width="1" height="4" fill="#000000"/>
<rect x="162" y="509" width="1" height="2" fill="#000000"/>
<rect x="163" y="509" width="1" height="3" fill="#000000"/>
<rect x="164" y="511" width="1" height="7" fill="#000000"/>
<rect x="165" y="517" width="1" height="9" fill="#000000"/>
<rect x="166" y="525" width="1" height="10" fill="#000000"/>
<rect x="167" y="534" width="1" height="9" fill="#000000"/>
<rect x="168" y="542" width="1" height="8" fill="#000000"/>
<rect x="169" y="549" width="1" height="6" fill="#000000"/>
<rect x="170" y="554" width="1" height="6" fill="#000000"/>
<rect x="171" y="559" width="1" height="5" fill="#000000"/>
<rect x="172" y="563" width="1" height="4" fill="#000000"/>
<rect x="173" y="566" width="1" height="4" fill="#000000"/>
<rect x="174" y="569" width="1" height="3" fill="#000000"/>
<rect x="175" y="571" width="1" height="3" fill="#000000"/>
<rect x="176" y="573" width="1" height="2" fill="#000000"/>
<rect x="177" y="574" width="1" height="2" fill="#000000"/>
<rect x="178" y="575" width="1" height="2" fill="#000000"/>
<rect x="179" y="576" width="1" height="1" fill="#000000"/>
<rect x="180" y="576" width="1" height="2" fill="#000000"/>
<rect x="181" y="577" width="1" height="1" fill="#000000"/>
<rect x="182" y="577" width="1" height="2" fill="#000000"/>
<rect x="183" y="578" width="1" height="1" fill="#000000"/>
<rect x="184" y="578" width="1" height="2" fill="#000000"/>
<rect x="185" y="579" width="2" height="1" fill="#000000"/>
<rect x="187" y="579" width="1" height="2" fill="#000000"/>
<rect x="188" y="580" width="4" height="1" fill="#000000"/>
<rect x="192" y="580" width="1" height="2" fill="#000000"/>
<rect x="193" y="581" width="7" height="1" fill="#000000"/>
<rect x="200" y="581" width="1" height="2" fill="#000000"/>
<rect x="201" y="582" width="118" height="1" fill="#000000"/>
<rect x="319" y="581" width="1" height="2" fill="#000000"/>
<rect x="320" y="581" width="7" height="1" fill="#000000"/>
<rect x="327" y="580" width="1" height="2" fill="#000000"/>
<rect x="328" y="580" width="3" height="1" fill="#000000"/>
<rect x="331" y="579" width="1" height="2" fill="#000000"/>
<rect x="332" y="579" width="2" height="1" fill="#000000"/>
<rect x="334" y="578" width="1" height="2" fill="#000000"/>
<rect x="335" y="578" width="1" height="1" fill="#000000"/>
<rect x="336" y="577" width="1" height="2" fill="#000000"/>
<rect x="337" y="576" width="1" height="2" fill="#000000"/>
<rect x="338" y="575" width="1" height="2" fill="#000000"/>
<rect x="339" y="574" width="1" height="2" fill="#000000"/>
<rect x="340" y="572" width="1" height="3" fill="#000000"/>
<rect x="341" y="570" width="1" height="3" fill="#000000"/>
<rect x="342" y="568" width="1" height="3" fill="#000000"/>
<rect x="343" y="566" width="1" height="3" fill="#000000"/>
<rect x="344" y="562" width="1" height="5" fill="#000000"/>
<rect x="345" y="558" width="1" height="5" fill="#000000"/>
<rect x="346" y="552" width="1" height="7" fill="#000000"/>
<rect x="347" y="545" width="1" height="8" fill="#000000"/>
<rect x="348" y="536" width="1" height="10" fill="#000000"/>
<rect x="349" y="527" width="1" height="10" fill="#000000"/>
<rect x="350" y="517" width="1" height="11" fill="#000000"/>
<rect x="351" y="507" width="1" height="11" fill="#000000"/>
<rect x="352" y="500" width="1" height="8" fill="#000000"/>
<rect x="353" y="497" width="1" height="4" fill="#000000"/>
<rect x="354" y="497" width="1" height="3" fill="#000000"/>
<rect x="355" y="499" width="1" height="9" fill="#000000"/>
<rect x="356" y="507" width="1" height="11" fill="#000000"/>
<rect x="357" y="517" width="1" height="13" fill="#000000"/>
<rect x="358" y="529" width="1" height="11" fill="#000000"/>
<rect x="359" y="539" width="1" height="9" fill="#000000"/>
<rect x="360" y="547" width="1" height="9" fill="#000000"/>
<rect x="361" y="555" width="1" height="6" fill="#000000"/>
<rect x="362" y="560" width="1" height="6" fill="#000000"/>
<rect x="363" y="565" width="1" height="4" fill="#000000"/>
<rect x="364" y="568" width="1" height="4" fill="#000000"/>
<rect x="365" y="571" width="1" height="3" fill="#000000"/>
<rect x="366" y="573" width="1" height="2" fill="#000000"/>
<rect x="367" y="574" width="1" height="2" fill="#000000"/>
<rect x="368" y="575" width="1" height="2" fill="#000000"/>
<rect x="369" y="576" width="1" height="2" fill="#000000"/>
<rect x="370" y="577" width="1" height="2" fill="#000000"/>
<rect x="371" y="578" width="1" height="1" fill="#000000"/>
<rect x="372" y="578" width="1" height="2" fill="#000000"/>
<rect x="373" y="579" width="1" height="1" fill="#000000"/>
<rect x="374" y="579" width="1" height="2" fill="#000000"/>
<rect x="375" y="580" width="4" height="1" fill="#000000"/>
<rect x="379" y="580" width="1" height="2" fill="#000000"/>
<rect x="380" y="581" width="7" height="1" fill="#000000"/>
<rect x="387" y="581" width="1" height="2" fill="#000000"/>
<rect x="388" y="582" width="122" height="1" fill="#000000"/>
<rect x="510" y="581" width="1" height="2" fill="#000000"/>
<rect x="511" y="581" width="7" height="1" fill="#000000"/>
<rect x="518" y="580" width="1" height="2" fill="#000000"/>
<rect x="519" y="580" width="4" height="1" fill="#000000"/>
<rect x="523" y="579" width="1" height="2" fill="#000000"/>
<rect x="524" y="579" width="2" height="1" fill="#000000"/>
<rect x="526" y="578" width="1" height="2" fill="#000000"/>
<rect x="527" y="578" width="1" height="1" fill="#000000"/>
<rect x="528" y="577" width="1" height="2" fill="#000000"/>
<rect x="529" y="576" width="1" height="2" fill="#000000"/>
<rect x="530" y="575" width="1" height="2" fill="#000000"/>
<rect x="531" y="574" width="1" height="2" fill="#000000"/>
<rect x="532" y="573" width="1" height="2" fill="#000000"/>
<rect x="533" y="571" width="1" height="3" fill="#000000"/>
<rect x="534" y="569" width="1" height="3" fill="#000000"/>
<rect x="535" y="567" width="1" height="3" fill="#000000"/>
<rect x="536" y="564" width="1" height="4" fill="#000000"/>
<rect x="537" y="560" width="1" height="5" fill="#000000"/>
<rect x="538" y="555" width="1" height="6" fill="#000000"/>
<rect x="539" y="548" width="1" height="8" fill="#000000"/>
<rect x="540" y="540" width="1" height="9" fill="#000000"/>
<rect x="541" y="529" width="1" height="12" fill="#000000"/>
<rect x="542" y="517" width="1" height="13" fill="#000000"/>
<rect x="543" y="504" width="1" height="14" fill="#000000"/>
<rect x="544" y="494" width="1" height="11" fill="#000000"/>
<rect x="545" y="488" width="1" height="7" fill="#000000"/>
<rect x="546" y="487" width="1" height="2" fill="#000000"/>
<rect x="547" y="488" width="1" height="7" fill="#000000"/>
<rect x="548" y="494" width="1" height="13" fill="#000000"/>
<rect x="549" y="506" width="1" height="13" fill="#000000"/>
<rect x="550" y="518" width="1" height="13" fill="#000000"/>
<rect x="551" y="530" width="1" height="10" fill="#000000"/>
<rect x="552" y="539" width="1" height="9" fill="#000000"/>
<rect x="553" y="547" width="1" height="8" fill="#000000"/>
<rect x="554" y="554" width="1" height="6" fill="#000000"/>
<rect x="555" y="559" width="1" height="6" fill="#000000"/>
<rect x="556" y="564" width="1" height="4" fill="#000000"/>
<rect x="557" y="567" width="1" height="3" fill="#000000"/>
<rect x="558" y="569" width="1" height="4" fill="#000000"/>
<rect x="559" y="572" width="1" height="2" fill="#000000"/>
<rect x="560" y="573" width="1" height="2" fill="#000000"/>
<rect x="561" y="574" width="1" height="2" fill="#000000"/>
<rect x="562" y="575" width="1" height="2" fill="#000000"/>
<rect x="563" y="576" width="1" height="2" fill="#000000"/>
<rect x="564" y="577" width="1" height="1" fill="#000000"/>
<rect x="565" y="577" width="1" height="2" fill="#000000"/>
<rect x="566" y="578" width="1" height="1" fill="#000000"/>
<rect x="567" y="578" width="1" height="2" fill="#000000"/>
<rect x="568" y="579" width="2" height="1" fill="#000000"/>
<rect x="570" y="579" width="1" height="2" fill="#000000"/>
<rect x="571" y="580" width="3" height="1" fill="#000000"/>
<rect x="574" y="580" width="1" height="2" fill="#000000"/>
<rect x="575" y="581" width="7" height="1" fill="#000000"/>
<rect x="582" y="581" width="1" height="2" fill="#000000"/>
<rect x="583" y="582" width="68" height="1" fill="#000000"/>
<polyline points="141.50,579.45 142.00,579.27 142.50,579.08 143.00,578.87 143.50,578.63 144.00,578.37 144.50,578.07 145.00,577.75 145.50,577.40 146.00,577.03 146.50,576.62 147.00,576.18 147.50,575.71 148.00,575.24 148.50,574.73 149.00,574.19 149.50,573.57 150.00,572.85 150.50,572.05 151.00,571.14 151.50,570.15 152.00,569.05 152.30,568.31 152.45,446.94 153.20,565.67 153.50,564.61 154.00,562.65 154.50,560.46 155.00,558.01 155.50,555.27 156.00,552.18 156.50,548.73 157.00,544.85 157.50,540.66 158.00,536.21 158.50,531.68 159.00,527.14 159.50,522.78 160.00,518.67 160.50,515.13 161.00,513.28 161.50,511.77 162.00,510.76 162.50,509.87 163.00,509.60 163.50,510.75 164.00,511.25 164.50,513.63 165.00,517.21 165.50,521.26 166.00,525.67 166.50,530.19 167.00,534.71 167.50,538.97 168.00,542.95 168.50,546.49 169.00,549.65 169.50,552.49 170.00,554.98 170.50,557.27 171.00,559.38 171.50,561.37 172.00,563.25 172.50,564.97 173.00,566.53 173.50,567.93 174.00,569.17 174.50,570.31 175.00,571.34 175.50,572.29 176.00,573.16 176.50,573.90 177.00,574.54 177.50,575.11 178.00,575.57 178.50,575.96 179.00,576.32 179.50,576.63 180.00,576.90 180.50,577.13 181.00,577.36 181.50,577.59 182.00,577.83 182.50,578.09 183.00,578.33 183.50,578.57 184.00,578.79 184.50,579.01 185.00,579.23 185.50,579.44 186.00,579.64 186.50,579.82 187.00,579.97 187.50,580.10 188.00,580.22 188.50,580.34 189.00,580.45 189.50,580.55 190.00,580.65 190.50,580.74 191.00,580.83 191.50,580.91 192.00,581.00 192.50,581.08 193.00,581.16 193.50,581.24 194.00,581.31 194.50,581.39 195.00,581.46 195.50,581.53 196.00,581.59 196.50,581.65 197.00,581.71 197.50,581.77 198.00,581.82 198.50,581.86 199.00,581.90 199.50,581.95 200.00,581.98 200.50,582.02 201.00,582.06 201.50,582.09 202.00,582.12 202.50,582.16 203.00,582.19 203.50,582.22 204.00,582.24 204.50,582.27 205.00,582.30 205.50,582.32 206.00,582.35 206.50,582.37 207.00,582.39 207.50,582.42 208.00,582.44 208.50,582.46 209.00,582.48 209.50,582.50 210.00,582.52 210.50,582.53 211.00,582.55 211.50,582.57 212.00,582.59 212.50,582.60 213.00,582.62 213.50,582.63 214.00,582.64 214.50,582.66 215.00,582.67 215.50,582.68 216.00,582.70 216.50,582.71 217.00,582.72 217.50,582.73 218.00,582.74 218.50,582.75 219.00,582.76 219.50,582.77 220.00,582.78 220.50,582.79 221.00,582.80 221.50,582.81 222.00,582.82 222.50,582.83 223.00,582.83 223.50,582.84 224.00,582.85 224.50,582.85 225.00,582.86 225.50,582.87 226.00,582.87 226.50,582.88 227.00,582.88 227.50,582.89 228.00,582.89 228.50,582.90 229.00,582.90 229.50,582.91 230.00,582.91 230.50,582.91 231.00,582.92 231.50,582.92 232.00,582.92 232.50,582.92 233.00,582.93 233.50,582.93 234.00,582.93 234.50,582.93 235.00,582.93 235.50,582.93 236.00,582.93 236.50,582.93 237.00,582.93 237.50,582.93 238.00,582.93 238.50,582.93 239.00,582.93 239.50,582.93 240.00,582.93 240.50,582.93 241.00,582.93 241.50,582.93 242.00,582.93 242.50,582.93 243.00,582.93 243.50,582.93 244.00,582.93 244.50,582.93 245.00,582.93 245.50,582.93 246.00,582.93 246.50,582.93 247.00,582.93 247.50,582.93 248.00,582.93 248.50,582.93 249.00,582.93 249.50,582.93 250.00,582.93 250.50,582.93 251.00,582.93 251.50,582.93 252.00,582.93 252.50,582.93 253.00,582.93 253.50,582.93 254.00,582.93 254.50,582.93 255.00,582.93 255.50,582.93 256.00,582.93 256.50,582.93 257.00,582.94 257.50,582.94 258.00,582.94 258.50,582.94 259.00,582.94 259.50,582.94 260.00,582.95 260.50,582.95 261.00,582.95 261.50,582.95 262.00,582.95 262.50,582.96 263.00,582.96 263.50,582.96 264.00,582.96 264.50,582.96 265.00,582.96 265.50,582.96 266.00,582.97 266.50,582.97 267.00,582.97 267.50,582.97 268.00,582.97 268.50,582.97 269.00,582.97 269.50,582.97 270.00,582.98 270.50,582.98 271.00,582.98 271.50,582.98 272.00,582.98 272.50,582.98 273.00,582.98 273.50,582.98 274.00,582.98 274.50,582.98 275.00,582.98 275.50,582.98 276.00,582.98 276.50,582.98 277.00,582.98 277.50,582.98 278.00,582.97 278.50,582.97 279.00,582.97 279.50,582.97 280.00,582.97 280.50,582.97 281.00,582.96 281.50,582.96 282.00,582.96 282.50,582.96 283.00,582.96 283.50,582.95 284.00,582.95 284.50,582.95 285.00,582.95 285.50,582.94 286.00,582.94 286.50,582.94 287.00,582.94 287.50,582.93 288.00,582.93 288.50,582.93 289.00,582.92 289.50,582.92 290.00,582.91 290.50,582.91 291.00,582.91 291.50,582.90 292.00,582.90 292.50,582.89 293.00,582.89 293.50,582.88 294.00,582.88 294.50,582.87 295.00,582.86 295.50,582.86 296.00,582.85 296.50,582.84 297.00,582.84 297.50,582.83 298.00,582.82 298.50,582.81 299.00,582.80 299.50,582.80 300.00,582.79 300.50,582.78 301.00,582.77 301.50,582.76 302.00,582.75 302.50,582.74 303.00,582.72 303.50,582.71 304.00,582.70 304.50,582.69 305.00,582.67 305.50,582.66 306.00,582.65 306.50,582.63 307.00,582.62 307.50,582.60 308.00,582.58 308.50,582.57 309.00,582.55 309.50,582.53 310.00,582.51 310.50,582.49 311.00,582.47 311.50,582.45 312.00,582.43 312.50,582.41 313.00,582.38 313.50,582.36 314.00,582.33 314.50,582.31 315.00,582.28 315.50,582.25 316.00,582.22 316.50,582.19 317.00,582.16 317.50,582.12 318.00,582.09 318.50,582.05 319.00,582.01 319.50,581.97 320.00,581.93 320.50,581.89 321.00,581.84 321.50,581.79 322.00,581.74 322.50,581.68 323.00,581.62 323.50,581.55 324.00,581.48 324.50,581.41 325.00,581.33 325.50,581.26 326.00,581.17 326.50,581.09 327.00,581.00 327.50,580.92 328.00,580.83 328.50,580.74 329.00,580.65 329.50,580.56 330.00,580.47 330.50,580.37 331.00,580.25 331.50,580.13 332.00,579.98 332.50,579.81 333.00,579.63 333.50,579.43 334.00,579.21 334.50,578.98 335.00,578.71 335.50,578.40 336.00,578.05 336.50,577.69 337.00,577.30 337.50,576.90 338.00,576.48 338.50,576.01 339.00,575.53 339.50,574.99 340.00,574.40 340.50,573.71 341.00,572.90 341.50,572.00 342.00,570.97 342.30,570.32 342.45,455.54 343.20,568.26 343.50,567.47 344.00,566.03 344.50,564.41 345.00,562.60 345.50,560.62 346.00,558.51 346.50,555.93 347.00,552.97 347.50,549.62 348.00,545.73 348.50,541.51 349.00,536.97 349.50,532.27 350.00,527.36 350.50,522.32 351.00,517.33 351.50,512.44 352.00,507.86 352.50,503.89 353.00,500.80 353.50,498.59 354.00,497.28 354.50,497.58 355.00,499.53 355.50,502.87 356.00,507.34 356.50,512.49 357.00,517.99 357.50,523.62 358.00,529.14 358.50,534.37 359.00,539.18 359.50,543.71 360.00,547.85 360.50,551.58 361.00,555.08 361.50,558.17 362.00,560.87 362.50,563.26 363.00,565.36 363.50,567.22 364.00,568.86 364.50,570.24 364.50,575.40 364.50,570.24 365.00,571.39 365.50,572.39 366.00,573.24 366.50,574.00 367.00,574.70 367.50,575.32 368.00,575.88 368.50,576.38 369.00,576.83 369.50,577.23 370.00,577.59 370.50,577.91 371.00,578.20 371.50,578.45 372.00,578.65 372.50,578.88 373.00,579.14 373.50,579.40 374.00,579.64 374.50,579.84 375.00,580.01 375.50,580.16 376.00,580.29 376.50,580.41 377.00,580.53 377.50,580.63 378.00,580.73 378.50,580.82 379.00,580.92 379.50,581.01 380.00,581.09 380.50,581.18 381.00,581.26 381.50,581.34 382.00,581.41 382.50,581.49 383.00,581.56 383.50,581.62 384.00,581.69 384.50,581.75 385.00,581.80 385.50,581.85 386.00,581.90 386.50,581.94 387.00,581.99 387.50,582.03 388.00,582.06 388.50,582.10 389.00,582.14 389.50,582.17 390.00,582.20 390.50,582.24 391.00,582.27 391.50,582.30 392.00,582.32 392.50,582.35 393.00,582.38 393.50,582.40 394.00,582.43 394.50,582.45 395.00,582.47 395.50,582.49 396.00,582.51 396.50,582.53 397.00,582.55 397.50,582.57 398.00,582.59 398.50,582.61 399.00,582.63 399.50,582.64 400.00,582.66 400.50,582.67 401.00,582.69 401.50,582.70 402.00,582.71 402.50,582.73 403.00,582.74 403.50,582.75 404.00,582.76 404.50,582.78 405.00,582.79 405.50,582.80 406.00,582.81 406.50,582.82 407.00,582.82 407.50,582.83 408.00,582.84 408.50,582.85 409.00,582.86 409.50,582.86 410.00,582.87 410.50,582.88 411.00,582.88 411.50,582.89 412.00,582.89 412.50,582.90 413.00,582.90 413.50,582.91 414.00,582.91 414.50,582.92 415.00,582.92 415.50,582.92 416.00,582.93 416.50,582.93 417.00,582.93 417.50,582.93 418.00,582.94 418.50,582.94 419.00,582.94 419.50,582.94 420.00,582.94 420.50,582.95 421.00,582.95 421.50,582.95 422.00,582.95 422.50,582.95 423.00,582.95 423.50,582.95 424.00,582.95 424.50,582.95 425.00,582.95 425.50,582.95 426.00,582.95 426.50,582.95 427.00,582.95 427.50,582.95 428.00,582.95 428.50,582.95 429.00,582.95 429.50,582.95 430.00,582.95 430.50,582.95 431.00,582.95 431.50,582.95 432.00,582.95 432.50,582.94 433.00,582.94 433.50,582.94 434.00,582.94 434.50,582.94 435.00,582.94 435.50,582.94 436.00,582.94 436.50,582.94 437.00,582.94 437.50,582.94 438.00,582.94 438.50,582.94 439.00,582.94 439.50,582.93 440.00,582.93 440.50,582.93 441.00,582.93 441.50,582.93 442.00,582.93 442.50,582.93 443.00,582.93 443.50,582.93 444.00,582.93 444.50,582.93 445.00,582.93 445.50,582.93 446.00,582.93 446.50,582.93 447.00,582.93 447.50,582.94 448.00,582.94 448.50,582.94 449.00,582.94 449.50,582.94 450.00,582.94 450.50,582.94 451.00,582.94 451.50,582.94 452.00,582.94 452.50,582.95 453.00,582.95 453.50,582.95 454.00,582.95 454.50,582.95 455.00,582.95 455.50,582.95 456.00,582.96 456.50,582.96 457.00,582.96 457.50,582.96 458.00,582.96 458.50,582.96 459.00,582.97 459.50,582.97 460.00,582.97 460.50,582.97 461.00,582.97 461.50,582.97 462.00,582.97 462.50,582.98 463.00,582.98 463.50,582.98 464.00,582.98 464.50,582.98 465.00,582.98 465.50,582.98 466.00,582.98 466.50,582.98 467.00,582.99 467.50,582.99 468.00,582.99 468.50,582.99 469.00,582.99 469.50,582.99 470.00,582.99 470.50,582.99 471.00,582.99 471.50,582.99 472.00,582.99 472.50,582.98 473.00,582.98 473.50,582.98 474.00,582.98 474.50,582.98 475.00,582.98 475.50,582.98 476.00,582.98 476.50,582.97 477.00,582.97 477.50,582.97 478.00,582.97 478.50,582.97 479.00,582.96 479.50,582.96 480.00,582.96 480.50,582.95 481.00,582.95 481.50,582.95 482.00,582.94 482.50,582.94 483.00,582.93 483.50,582.93 484.00,582.92 484.50,582.92 485.00,582.91 485.50,582.90 486.00,582.90 486.50,582.89 487.00,582.88 487.50,582.88 488.00,582.87 488.50,582.86 489.00,582.85 489.50,582.84 490.00,582.84 490.50,582.83 491.00,582.82 491.50,582.81 492.00,582.80 492.50,582.79 493.00,582.78 493.50,582.77 494.00,582.75 494.50,582.74 495.00,582.73 495.50,582.72 496.00,582.70 496.50,582.69 497.00,582.68 497.50,582.66 498.00,582.65 498.50,582.63 499.00,582.62 499.50,582.60 500.00,582.58 500.50,582.57 501.00,582.55 501.50,582.53 502.00,582.51 502.50,582.49 503.00,582.47 503.50,582.44 504.00,582.42 504.50,582.40 505.00,582.37 505.50,582.35 506.00,582.32 506.50,582.29 507.00,582.27 507.50,582.24 508.00,582.21 508.50,582.17 509.00,582.14 509.50,582.11 510.00,582.07 510.50,582.03 511.00,581.99 511.50,581.95 512.00,581.91 512.50,581.86 513.00,581.81 513.50,581.76 514.00,581.70 514.50,581.64 515.00,581.57 515.50,581.51 516.00,581.43 516.50,581.36 517.00,581.28 517.50,581.20 518.00,581.11 518.50,581.03 519.00,580.94 519.50,580.84 520.00,580.74 520.50,580.64 521.00,580.53 521.50,580.41 522.00,580.29 522.50,580.16 523.00,580.02 523.50,579.88 524.00,579.74 524.50,579.62 525.00,579.49 525.50,579.36 526.00,579.20 526.50,579.01 527.00,578.74 527.50,578.35 528.00,578.01 528.50,577.66 529.00,577.30 529.50,576.90 530.00,576.47 530.50,576.01 531.00,575.51 531.50,575.00 532.00,574.46 532.50,573.88 533.00,573.25 533.50,572.54 534.00,571.73 534.50,570.79 535.00,569.70 535.30,568.99 535.45,483.21 536.20,566.56 536.50,565.66 537.00,564.13 537.50,562.39 538.00,560.43 538.50,558.06 539.00,555.33 539.50,552.22 540.00,548.68 540.50,544.66 541.00,540.05 541.50,534.91 542.00,529.22 542.50,523.32 543.00,517.16 543.50,510.87 544.00,504.81 544.50,499.27 545.00,494.74 545.50,490.91 546.00,488.03 546.50,487.05 547.00,488.01 547.50,490.57 548.00,494.45 548.50,499.68 549.00,506.41 549.50,512.84 550.00,518.82 550.50,524.61 551.00,530.07 551.50,535.16 552.00,539.80 552.50,544.09 553.00,547.96 553.50,551.43 554.00,554.61 554.50,557.45 555.00,559.97 555.50,562.18 556.00,564.12 556.50,565.84 557.00,567.37 557.50,568.74 557.50,575.40 557.50,568.74 558.00,569.99 558.50,571.10 559.00,572.09 559.50,572.95 560.00,573.68 560.50,574.32 561.00,574.88 561.50,575.37 562.00,575.81 562.50,576.20 563.00,576.54 563.50,576.87 564.00,577.18 564.50,577.47 565.00,577.75 565.50,578.00 566.00,578.24 566.50,578.47 567.00,578.68 567.50,578.88 568.00,579.09 568.50,579.31 569.00,579.54 569.50,579.74 570.00,579.91 570.50,580.06 571.00,580.20 571.50,580.33 572.00,580.45 572.50,580.57 573.00,580.68 573.50,580.78 574.00,580.88 574.50,580.98 575.00,581.07 575.50,581.16 576.00,581.25 576.50,581.33 577.00,581.41 577.50,581.49 578.00,581.56 578.50,581.63 579.00,581.70 579.50,581.76 580.00,581.81 580.50,581.86 581.00,581.91 581.50,581.95 582.00,581.99 582.50,582.03 583.00,582.07 583.50,582.10 584.00,582.14 584.50,582.17 585.00,582.20 585.50,582.23 586.00,582.26 586.50,582.29 587.00,582.31 587.50,582.34 588.00,582.36 588.50,582.39 589.00,582.41 589.50,582.43 590.00,582.46 590.50,582.48 591.00,582.50 591.50,582.52 592.00,582.53 592.50,582.55 593.00,582.57 593.50,582.59 594.00,582.60 594.50,582.62 595.00,582.63 595.50,582.65 596.00,582.66 596.50,582.68 597.00,582.69 597.50,582.70 598.00,582.71 598.50,582.73 599.00,582.74 599.50,582.75 600.00,582.76 600.50,582.77 601.00,582.78 601.50,582.79 602.00,582.80 602.50,582.81 603.00,582.82 603.50,582.83 604.00,582.84 604.50,582.84 605.00,582.85 605.50,582.86 606.00,582.87 606.50,582.88 607.00,582.88 607.50,582.89 608.00,582.90 608.50,582.90 609.00,582.91 609.50,582.91 610.00,582.92 610.50,582.92 611.00,582.93 611.50,582.93 612.00,582.94 612.50,582.94 613.00,582.94 613.50,582.95 614.00,582.95 614.50,582.95 615.00,582.95 615.50,582.96 616.00,582.96 616.50,582.96 617.00,582.96 617.50,582.96 618.00,582.97 618.50,582.97 619.00,582.97 619.50,582.97 620.00,582.97 620.50,582.97 621.00,582.97 621.50,582.97 622.00,582.97 622.50,582.97 623.00,582.97 623.50,582.97 624.00,582.97 624.50,582.97 625.00,582.97 625.50,582.97 626.00,582.97 626.50,582.97 627.00,582.97 627.50,582.96 628.00,582.96 628.50,582.96 629.00,582.96 629.50,582.96 630.00,582.96 630.50,582.96 631.00,582.96 631.50,582.96 632.00,582.96 632.50,582.95 633.00,582.95 633.50,582.95 634.00,582.95 634.50,582.95 635.00,582.95 635.50,582.95 636.00,582.95 636.50,582.95 637.00,582.94 637.50,582.94 638.00,582.94 638.50,582.94 639.00,582.94 639.50,582.94 640.00,582.94 640.50,582.94 641.00,582.94 641.50,582.94 642.00,582.94 642.50,582.94 643.00,582.94 643.50,582.94 644.00,582.94 644.50,582.94 645.00,582.94 645.50,582.94 646.00,582.94 646.50,582.94 647.00,582.94 647.50,582.94 648.00,582.94 648.50,582.94 649.00,582.94 649.50,582.94 650.00,582.94" fill="none" stroke="#000" stroke-width="1" stroke-linejoin="round"/>
</svg>
</body></html>
